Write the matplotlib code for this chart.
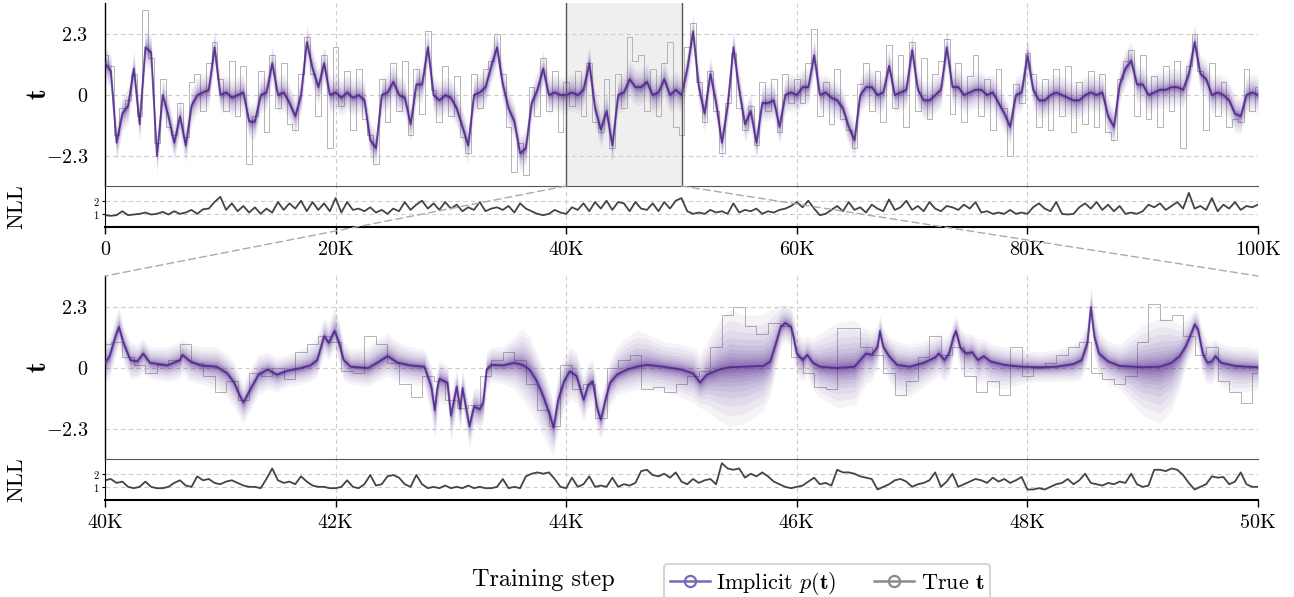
import numpy as np
import matplotlib
matplotlib.use("Agg")
import matplotlib.pyplot as plt
from matplotlib.patches import ConnectionPatch
from matplotlib.lines import Line2D

# ---- data ------------------------------------------------------------------
# overview (0 - 100K), one value every 500 steps
top_steps = np.arange(0, 100001, 500)
top_mu = [
    1.2, 0.9, -1.8, -0.7, -0.4, 1.0, -1.1, 1.8, 1.6, -2.3, 0.0, -0.8, -1.8, -0.8, -1.9, -0.4, 0.0, 0.1, 0.2, 1.8,
    0.0, 0.1, -0.1, 0.0, 0.1, -1.0, -1.0, 0.0, 0.1, 1.2, 0.0, 0.1, -0.3, -0.8, 0.0, 2.0, 1.0, 0.3, 1.2, 0.0,
    0.1, -0.1, 0.1, -0.1, 0.0, -0.2, -1.7, -2.0, 0.0, 0.1, 0.5, 0.0, -0.1, -1.1, 0.4, 0.4, 1.8, 0.0, -0.2, 0.0,
    -0.1, -0.5, -1.2, -1.9, 0.0, 0.1, 0.3, 1.1, 1.8, 0.4, -0.5, -1.0, -2.2, -2.0, -0.3, 0.2, 1.0, 0.0, 0.1, 0.0,
    0.0, 0.1, 0.0, 0.2, 1.2, -0.5, -1.3, -0.6, -1.9, 0.0, 0.1, 0.6, 0.3, 0.3, 0.5, 0.0, 0.1, 0.6, 0.0, 0.2,
    0.0, 1.0, 2.4, 0.3, -0.7, 0.8, -0.3, -1.8, -0.4, 1.8, 0.2, -1.1, -0.6, -1.8, -0.3, -0.3, -0.2, -1.2, 0.0, 0.1,
    0.0, 0.3, 0.3, 1.5, 0.0, 0.1, -0.1, -0.2, -0.5, -1.2, -1.7, 0.0, 0.3, 0.3, 0.0, 0.1, 1.1, 0.0, 0.1, 0.2,
    1.7, 0.2, -0.2, -0.2, 0.0, 0.2, 1.8, 0.3, 0.3, 0.0, 0.1, 0.2, 0.2, 0.0, 0.1, -0.3, -0.7, -1.2, 0.0, 0.1,
    1.5, 0.2, -0.2, -0.2, 0.0, 0.1, 0.0, -0.1, -0.2, -0.2, 0.0, 0.1, 0.0, 0.1, -0.8, -1.2, 0.4, 1.0, 1.3, 0.4,
    0.4, 0.0, 0.1, 0.2, 0.2, 0.3, 0.3, 0.2, 0.8, 2.0, 0.8, 0.6, 0.0, 0.1, 0.0, -0.2, -0.7, -0.8, 0.0, 0.1,
    0.0,
]
top_true = [
    1.5, 1.1, -1.5, -0.5, -0.2, 0.8, -0.8, 3.2, 1.4, -1.8, 0.6, -1.2, -1.5, -0.3, -1.6, 0.5, 0.8, -0.6, 1.2, 2.0,
    0.6, -0.6, 1.3, -0.8, 1.1, -2.6, -0.8, 0.9, -1.4, 1.5, -0.5, 1.2, -1.1, -1.3, 0.8, 2.2, 0.8, -0.8, 1.5, -2.0,
    1.8, -0.4, 0.9, -1.3, 1.0, -0.9, -1.5, -2.6, 0.6, -1.0, 1.2, -0.6, 1.3, -1.5, 1.0, -0.7, 2.4, 0.2, -1.0, 1.1,
    -0.8, 0.7, -1.6, -2.2, 0.8, -0.5, 1.0, 1.3, 2.3, 0.8, -1.2, -2.9, -1.8, -3.0, 0.3, -0.8, 1.4, -0.6, 0.9, -1.4,
    0.5, -0.4, 0.9, -0.8, 1.2, -1.0, -1.4, 0.6, -2.0, 0.8, -0.5, 2.2, 1.3, 1.5, -0.6, 1.0, -0.8, 1.2, 2.0, -1.2,
    -1.5, 1.8, 2.7, 0.5, -1.0, 0.9, -0.6, -2.2, -0.3, 1.6, -0.5, -1.3, -0.4, -1.9, 0.5, -0.6, 0.6, -1.4, 0.8, -0.3,
    0.6, -0.3, 1.2, 2.5, -0.8, 0.5, -1.1, 1.0, -0.9, -1.3, -2.0, 0.4, 1.2, -0.6, 0.9, -1.0, 1.9, -0.5, 1.5, -1.2,
    2.0, -0.6, 1.4, -0.9, 0.8, 1.3, 2.1, -0.7, 1.2, -1.0, 0.7, 1.5, -0.8, 0.6, -1.3, 1.0, -0.5, -2.3, 0.4, -0.3,
    1.6, 0.8, -1.2, 0.6, -1.3, 1.0, -0.8, 1.1, -1.4, 0.5, -1.1, 0.9, -1.2, 0.8, -1.4, -1.7, 0.6, 1.3, 1.7, -0.8,
    1.5, -0.9, 0.7, -1.2, 1.1, -0.6, 1.3, -2.0, 1.1, 2.3, 0.9, -1.3, 1.2, -0.8, 0.5, -1.2, -0.9, -1.0, 1.0, -0.6,
    0.3,
]
top_nll = [
    0.9, 0.85, 0.9, 1.2, 0.9, 0.95, 1.0, 1.1, 0.95, 1.0, 1.15, 0.95, 1.2, 1.0, 1.1, 1.3, 1.0, 1.35, 1.4, 1.9,
    2.3, 1.3, 1.8, 1.2, 1.6, 1.1, 1.5, 1.0, 1.4, 1.1, 1.9, 1.3, 1.8, 1.4, 2.0, 1.2, 1.9, 1.3, 1.8, 1.2,
    2.2, 1.1, 1.9, 1.3, 1.4, 1.2, 1.5, 1.1, 1.3, 1.0, 1.4, 1.2, 1.9, 1.3, 1.7, 2.0, 1.4, 1.8, 1.3, 1.9,
    1.4, 1.7, 1.2, 1.5, 1.3, 1.9, 1.2, 1.4, 1.5, 1.3, 1.6, 1.1, 1.8, 1.4, 1.2, 1.0, 0.9, 1.0, 1.3, 1.1,
    1.0, 1.5, 1.3, 1.8, 1.2, 1.9, 1.4, 2.0, 1.3, 1.9, 1.8, 1.2, 1.9, 1.4, 1.3, 1.8, 1.2, 1.9, 1.4, 2.0,
    2.2, 1.2, 1.0, 1.1, 1.0, 1.3, 1.1, 1.2, 1.0, 1.8, 1.1, 1.3, 1.2, 1.4, 1.0, 1.2, 1.1, 1.3, 1.4, 1.6,
    1.9, 1.5, 2.0, 1.4, 0.9, 1.0, 1.3, 1.6, 1.2, 1.9, 1.3, 1.5, 1.1, 1.7, 1.4, 1.2, 2.1, 1.3, 1.5, 2.0,
    1.3, 1.6, 1.2, 1.9, 1.4, 1.2, 1.6, 1.5, 1.3, 1.7, 1.4, 1.9, 1.1, 1.2, 1.0, 1.1, 1.0, 1.3, 1.0, 1.1,
    1.0, 1.5, 1.8, 1.4, 1.2, 1.9, 1.0, 0.95, 1.0, 1.5, 1.8, 1.4, 1.9, 1.3, 1.7, 1.2, 1.6, 1.0, 1.1, 1.0,
    1.2, 1.7, 1.5, 1.8, 1.3, 1.6, 1.9, 1.4, 2.6, 1.4, 1.6, 1.3, 2.2, 1.2, 1.7, 1.4, 1.9, 1.3, 1.6, 1.5,
    1.7,
]
top_spread = 0.7

# zoom (40K - 50K): knots of the implicit distribution (centre, outer low, outer high)
zoom_steps = [
    40000, 40040, 40090, 40120, 40160, 40220, 40280, 40330, 40390, 40540, 40650, 40670, 40740, 40830, 40970,
    41060, 41120, 41170, 41200, 41260, 41330, 41410, 41490, 41580, 41700, 41780, 41840, 41900, 41940, 41990,
    42030, 42070, 42130, 42280, 42360, 42450, 42540, 42650, 42770, 42830, 42860, 42880, 42900, 42970, 43000,
    43050, 43080, 43100, 43160, 43200, 43250, 43280, 43310, 43350, 43450, 43550, 43620, 43680, 43740, 43800,
    43860, 43890, 43930, 43980, 44030, 44090, 44150, 44190, 44230, 44270, 44300, 44340, 44380, 44440, 44530,
    44610, 44700, 44840, 44990, 45100, 45160, 45220, 45330, 45420, 45550, 45710, 45770, 45820, 45860, 45900,
    45950, 45970, 46000, 46050, 46090, 46140, 46200, 46350, 46500, 46550, 46600, 46650, 46700, 46720, 46750,
    46800, 46870, 46980, 47100, 47200, 47230, 47280, 47320, 47360, 47380, 47420, 47470, 47520, 47570, 47620,
    47680, 47800, 47950, 48100, 48250, 48400, 48470, 48520, 48550, 48580, 48620, 48700, 48800, 49000, 49150,
    49250, 49320, 49370, 49420, 49450, 49480, 49520, 49560, 49600, 49630, 49680, 49800, 49900, 50000,
]
zoom_mu = [
    0.2, 0.45, 1.2, 1.55, 0.95, 0.3, 0.25, 0.55, 0.2, 0.1, 0.3, 0.5, 0.25, 0.1, 0.05,
    -0.2, -0.55, -1.05, -1.3, -0.8, -0.25, -0.05, -0.25, -0.1, 0.0, 0.1, 0.3, 1.2, 0.95, 1.4,
    0.95, 0.3, 0.05, 0.0, 0.2, 0.45, 0.2, 0.1, 0.05, -0.7, -1.6, -0.8, -0.4, -0.55, -1.8,
    -0.7, -1.55, -0.75, -2.2, -1.45, -1.55, -1.3, -0.05, 0.12, 0.1, 0.2, 0.12, -0.05, -0.45, -1.05,
    -1.8, -2.25, -1.2, -0.5, -0.12, -0.3, -1.2, -0.65, -0.5, -1.55, -1.95, -1.2, -0.55, -0.25, -0.05,
    0.05, 0.12, 0.05, -0.05, -0.2, -0.55, -0.25, -0.05, 0.03, 0.05, 0.08, 0.25, 0.95, 1.55, 1.7,
    1.55, 1.2, 0.55, 0.3, 0.5, 0.2, 0.05, 0.0, 0.05, 0.3, 0.55, 0.5, 0.8, 1.4, 0.8,
    0.45, 0.12, 0.05, 0.2, 0.4, 0.55, 0.3, 0.55, 1.2, 1.4, 0.75, 0.55, 0.6, 0.3, 0.45,
    0.25, 0.12, 0.05, 0.03, 0.05, 0.15, 0.3, 0.95, 2.3, 1.2, 0.55, 0.25, 0.08, 0.03, 0.05,
    0.2, 0.45, 0.8, 1.3, 1.65, 1.45, 0.55, 0.2, 0.25, 0.45, 0.2, 0.08, 0.05, 0.03,
]
zoom_lo = [
    -0.6, -0.4, 0.4, 0.8, 0.2, -0.4, -0.4, -0.2, -0.4, -0.5, -0.4, -0.2, -0.5, -0.6, -0.8,
    -1.1, -1.5, -1.9, -2.1, -1.6, -1.0, -0.8, -0.9, -0.7, -0.6, -0.5, -0.3, 0.5, 0.3, 0.7,
    0.2, -0.5, -0.6, -0.7, -0.5, -0.3, -0.5, -0.6, -0.7, -1.8, -2.7, -1.9, -1.3, -1.4, -2.8,
    -1.6, -2.4, -1.6, -3.0, -2.2, -2.3, -2.1, -0.8, -0.5, -0.6, -0.8, -1.2, -1.6, -2.0, -2.6,
    -3.1, -3.3, -2.4, -1.6, -1.2, -1.3, -2.0, -1.5, -1.4, -2.4, -2.7, -2.0, -1.4, -1.0, -0.9,
    -0.8, -0.8, -0.9, -1.1, -1.3, -1.5, -1.6, -2.0, -2.2, -2.1, -1.6, -1.0, 0.0, 0.8, 1.0,
    0.8, 0.4, -0.3, -0.5, -0.3, -0.8, -1.1, -1.5, -1.4, -1.0, -0.6, -0.5, 0.0, 0.6, 0.0,
    -0.5, -1.0, -1.1, -0.7, -0.4, -0.3, -0.5, -0.3, 0.4, 0.7, -0.1, -0.3, -0.3, -0.6, -0.5,
    -0.7, -0.8, -0.6, -0.5, -0.5, -0.5, -0.4, 0.2, 1.6, 0.4, -0.3, -0.6, -0.8, -1.8, -2.1,
    -1.6, -0.8, 0.0, 0.5, 0.9, 0.7, -0.3, -0.6, -0.6, -0.4, -0.7, -0.9, -0.9, -0.8,
]
zoom_hi = [
    1.0, 1.2, 1.9, 2.3, 1.6, 1.0, 0.9, 1.1, 0.8, 0.8, 1.0, 1.1, 0.9, 0.8, 0.8,
    0.5, 0.2, -0.3, -0.6, 0.0, 0.5, 0.6, 0.4, 0.5, 0.7, 0.9, 1.2, 1.9, 1.7, 2.3,
    1.8, 1.0, 0.7, 0.8, 1.1, 1.3, 1.0, 0.8, 0.7, 0.1, -0.8, 0.0, 0.3, 0.1, -1.0,
    0.0, -0.8, 0.0, -1.5, -0.7, -0.8, -0.5, 0.6, 0.8, 0.8, 1.2, 1.5, 1.2, 0.6, 0.0,
    -0.8, -1.3, -0.2, 0.4, 0.8, 0.6, -0.3, 0.2, 0.3, -0.7, -1.1, -0.4, 0.3, 0.8, 1.2,
    1.4, 1.3, 1.0, 0.9, 0.8, 0.5, 1.0, 1.8, 2.2, 2.0, 2.0, 2.2, 2.3, 2.4, 2.4,
    2.3, 2.0, 1.4, 1.1, 1.2, 1.1, 1.3, 1.7, 1.8, 1.6, 1.5, 1.4, 1.6, 2.0, 1.5,
    1.2, 1.0, 0.9, 1.0, 1.2, 1.3, 1.1, 1.3, 1.8, 2.0, 1.5, 1.3, 1.3, 1.1, 1.1,
    0.9, 0.8, 0.7, 0.6, 0.7, 0.9, 1.2, 1.8, 3.1, 2.2, 1.4, 1.0, 0.9, 1.6, 1.9,
    1.8, 1.6, 1.8, 2.0, 2.2, 2.1, 1.4, 1.0, 1.0, 1.1, 0.9, 0.8, 0.8, 0.7,
]
# true t in the zoom, one value every 100 steps
zoom_true_steps = np.arange(40000, 50001, 100)
zoom_true = [
    0.9, 1.0, 0.4, 0.1, -0.2, 0.1, 0.3, 0.9, 0.2, -0.3,
    -0.9, -0.5, -1.2, -0.2, -0.3, 0.0, -0.4, 0.6, 0.9, 1.2,
    1.0, -0.1, -0.2, 1.2, 0.9, 0.2, -0.6, -1.1, -0.3, -0.5,
    -1.2, -1.5, -1.4, -0.3, 0.3, 0.6, 0.3, -0.6, -1.6, -2.2,
    0.1, -0.8, -0.6, -1.9, 0.0, 0.3, 0.5, -0.8, -0.7, -0.9,
    -0.6, -0.3, -0.1, 0.8, 2.0, 2.3, 1.6, 1.3, 1.7, 1.6,
    0.4, -0.2, -0.7, -0.8, 1.5, 1.5, 0.8, 0.5, -0.2, -1.0,
    -0.5, 0.4, 1.2, 0.5, 0.8, -0.3, -0.9, -0.5, -1.0, 0.8,
    -0.3, 0.0, 0.2, 0.5, 0.8, 1.0, -0.2, -0.4, -0.6, -0.3,
    1.0, 2.4, 1.8, 2.0, 1.2, 0.5, 0.8, -0.5, -0.9, -1.3,
    -0.2,
]
# NLL in the zoom, one value every 50 steps
zoom_nll_steps = np.arange(40000, 50001, 50)
zoom_nll = [
    1.5, 1.6, 1.3, 1.4, 1.0, 0.9, 1.0, 1.4, 1.0, 0.9, 0.9, 1.0, 1.3, 1.5, 1.1, 1.0, 1.8, 1.5, 1.6, 1.3,
    1.2, 1.4, 1.5, 1.3, 1.1, 1.0, 1.0, 0.9, 1.6, 2.4, 1.5, 1.3, 1.4, 1.2, 1.8, 1.4, 1.1, 1.0, 1.0, 0.9,
    0.9, 1.0, 1.5, 1.0, 0.9, 1.2, 1.9, 1.1, 1.2, 1.8, 1.9, 1.7, 1.2, 1.0, 1.9, 1.2, 0.9, 1.0, 0.9, 1.1,
    0.9, 1.0, 0.9, 1.1, 0.9, 1.0, 0.9, 0.9, 1.0, 1.6, 0.9, 1.0, 0.9, 1.8, 2.0, 2.1, 2.0, 2.1, 1.6, 1.0,
    0.9, 1.7, 1.0, 1.2, 1.8, 1.0, 1.1, 1.0, 1.7, 1.0, 1.2, 1.1, 1.3, 2.2, 2.3, 1.9, 1.8, 2.0, 1.7, 2.1,
    1.4, 1.2, 1.6, 1.3, 1.5, 1.6, 1.2, 2.8, 2.4, 2.3, 2.4, 1.7, 2.0, 1.8, 2.1, 1.8, 1.4, 1.2, 1.0, 0.9,
    1.0, 1.1, 1.4, 1.7, 1.2, 1.3, 1.1, 2.3, 2.1, 2.1, 2.0, 1.8, 1.7, 1.6, 0.8, 1.0, 1.2, 1.5, 1.6, 1.4,
    1.0, 1.2, 1.3, 1.5, 2.1, 1.0, 1.4, 2.0, 1.0, 1.2, 1.4, 1.6, 1.5, 1.3, 1.7, 1.4, 1.6, 1.3, 1.5, 1.75,
    0.8, 0.8, 0.9, 0.8, 1.0, 1.2, 1.3, 1.6, 1.2, 1.5, 2.0, 1.3, 1.2, 1.1, 1.3, 1.2, 1.4, 1.3, 2.0, 1.2,
    1.0, 1.1, 2.3, 2.3, 2.2, 2.4, 2.3, 1.9, 1.3, 0.8, 1.0, 1.2, 1.8, 1.7, 1.75, 1.2, 1.4, 2.1, 1.2, 1.0,
    1.0,
]

top_ticks = [0, 20000, 40000, 60000, 80000, 100000]
top_ticklabels = ["0", "20K", "40K", "60K", "80K", "100K"]
zoom_ticks = [40000, 42000, 44000, 46000, 48000, 50000]
zoom_ticklabels = ["40K", "42K", "44K", "46K", "48K", "50K"]

# ---- style -------------------------------------------------------------------
plt.rcParams["font.family"] = "serif"
plt.rcParams["font.serif"] = ["cmr10"]
plt.rcParams["mathtext.fontset"] = "cm"
plt.rcParams["axes.unicode_minus"] = False

PURPLE = "#4b2089"
GRAY_TRUE = "#b4b4b4"
NLL_COLOR = "#444444"
GRID = dict(color="#cccccc", linestyle=(0, (4, 3)), linewidth=0.8)
T_LIM = (-3.43, 3.47)
NLL_LIM = (0, 3.12)
TICK_FS = 14.5
# fractions of the outer envelope used for the stacked density bands (outer -> core)
BAND_FRACS = [1.0, 0.82, 0.66, 0.52, 0.41, 0.32, 0.25, 0.19, 0.14, 0.1, 0.065, 0.035]
BAND_ALPHAS = np.linspace(0.05, 0.12, len(BAND_FRACS))

W, H = 1294, 597
fig = plt.figure(figsize=(W / 100, H / 100), dpi=100)


def px_axes(x0, x1, ytop, ybot):
    return fig.add_axes([x0 / W, 1 - ybot / H, (x1 - x0) / W, (ybot - ytop) / H])


def draw_density(ax, x, mu, lo, hi):
    mu, lo, hi = np.asarray(mu), np.asarray(lo), np.asarray(hi)
    for f, a in zip(BAND_FRACS, BAND_ALPHAS):
        ax.fill_between(x, mu - f * (mu - lo), mu + f * (hi - mu),
                        color=PURPLE, alpha=a, lw=0, zorder=3)
    ax.plot(x, mu, color=PURPLE, lw=1.3, alpha=0.8, zorder=4)


def style_main(ax, xlim):
    ax.set_xlim(*xlim)
    ax.set_ylim(*T_LIM)
    ax.set_yticks([-2.3, 0, 2.3])
    ax.set_yticklabels([r"$-2.3$", r"$0$", r"$2.3$"], fontsize=TICK_FS)
    ax.tick_params(axis="y", length=0, pad=12)
    ax.tick_params(axis="x", bottom=False, labelbottom=False)
    for s in ["top", "right", "bottom"]:
        ax.spines[s].set_visible(False)
    ax.spines["left"].set_linewidth(1.0)
    ax.grid(True, **GRID)
    ax.set_axisbelow(True)
    ax.set_ylabel(r"$\mathbf{t}$", fontsize=20)
    ax.yaxis.set_label_coords(-0.046, 0.5)


def style_nll(ax, xlim, ticks, labels):
    ax.set_xlim(*xlim)
    ax.set_ylim(*NLL_LIM)
    ax.set_yticks([1, 2])
    ax.set_yticklabels([r"$1$", r"$2$"], fontsize=7.5)
    ax.tick_params(axis="y", length=2, pad=2)
    ax.set_xticks(ticks)
    ax.set_xticklabels(labels, fontsize=TICK_FS)
    ax.tick_params(axis="x", direction="out", length=5, width=1, pad=5)
    ax.spines["right"].set_visible(False)
    ax.spines["top"].set_linewidth(0.8)
    ax.spines["top"].set_color("#555555")
    ax.spines["bottom"].set_linewidth(1.5)
    ax.grid(True, **GRID)
    ax.set_axisbelow(True)
    ax.set_ylabel("NLL", fontsize=16)
    ax.yaxis.set_label_coords(-0.068, 0.5)


# ---- overview ------------------------------------------------------------------
ax_top = px_axes(105, 1258, 3, 186)
ax_top_nll = px_axes(105, 1258, 186, 227)

ax_top.axvspan(40000, 50000, color="#efefef", lw=0, zorder=0.3)
ax_top.axvline(40000, color="#555555", lw=1.0, zorder=5)
ax_top.axvline(50000, color="#555555", lw=1.0, zorder=5)
ax_top.step(top_steps, top_true, where="mid", color=GRAY_TRUE, lw=0.7, zorder=2)
top_mu_arr = np.asarray(top_mu)
draw_density(ax_top, top_steps, top_mu_arr, top_mu_arr - top_spread, top_mu_arr + top_spread)
style_main(ax_top, (0, 100000))

ax_top_nll.plot(top_steps, top_nll, color=NLL_COLOR, lw=1.3)
style_nll(ax_top_nll, (0, 100000), top_ticks, top_ticklabels)

# ---- zoom -------------------------------------------------------------------------
ax_bot = px_axes(105, 1258, 276, 459)
ax_bot_nll = px_axes(105, 1258, 459, 500)

ax_bot.step(zoom_true_steps, zoom_true, where="mid", color=GRAY_TRUE, lw=0.7, zorder=2)
draw_density(ax_bot, zoom_steps, zoom_mu, zoom_lo, zoom_hi)
style_main(ax_bot, (40000, 50000))

ax_bot_nll.plot(zoom_nll_steps, zoom_nll, color=NLL_COLOR, lw=1.3)
style_nll(ax_bot_nll, (40000, 50000), zoom_ticks, zoom_ticklabels)

# dashed connectors from the highlighted window to the zoom panel
for xa, xb in [(40000, 0.0), (50000, 1.0)]:
    con = ConnectionPatch(xyA=(xa, T_LIM[0]), coordsA=ax_top.transData,
                          xyB=(xb, 1.0), coordsB=ax_bot.transAxes,
                          color="#aaaaaa", linestyle=(0, (5, 3)), lw=1.0, zorder=10)
    fig.add_artist(con)

# ---- x label + legend ---------------------------------------------------------------
fig.text(543 / W, 1 - 580 / H, "Training step", ha="center", va="center", fontsize=17.5)
handles = [
    Line2D([], [], color="#7a68b6", marker="o", mfc="none", lw=1.8, ms=8, mew=1.6),
    Line2D([], [], color="#8a8a8a", marker="o", mfc="none", lw=1.8, ms=8, mew=1.6),
]
leg = fig.legend(handles, [r"Implicit $p(\mathbf{t})$", r"True $\mathbf{t}$"],
                 loc="upper left", bbox_to_anchor=(664 / W, 1 - 564 / H), ncol=2,
                 fontsize=16, frameon=True, fancybox=True, edgecolor="#cccccc",
                 handlelength=1.8, handletextpad=0.3, columnspacing=1.7,
                 borderpad=0.25, borderaxespad=0.0)
leg.get_frame().set_linewidth(1.5)

fig.savefig("out.png", dpi=100)
